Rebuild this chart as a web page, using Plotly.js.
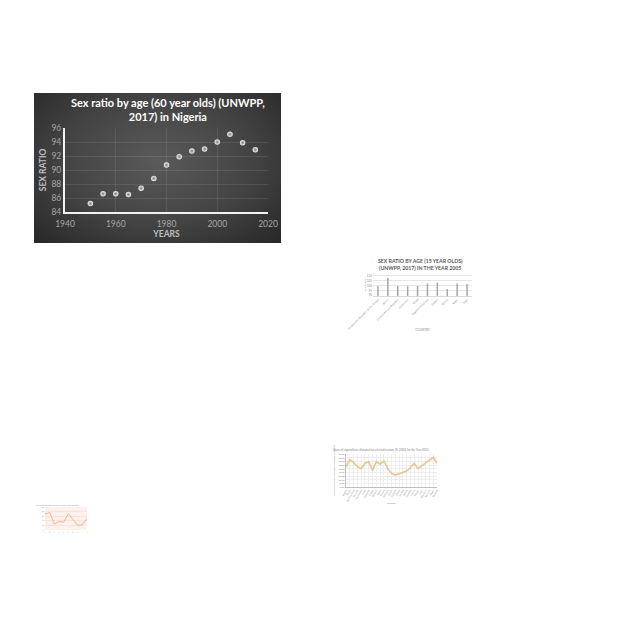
<!DOCTYPE html>
<html>
<head>
<meta charset="utf-8">
<script src="https://cdn.plot.ly/plotly-3.0.1.min.js"></script>
<style>
  html, body { margin: 0; padding: 0; background: #ffffff; width: 640px; height: 640px; overflow: hidden; }
  .box { position: absolute; }
  #main { left: 34px; top: 93px; width: 247px; height: 150px;
    background: radial-gradient(ellipse at 50% 45%, #5a5a5a 0%, #434343 55%, #272727 100%); }
  #bars { left: 335px; top: 250px; width: 145px; height: 82px; }
  #line { left: 310px; top: 440px; width: 130px; height: 76px; }
  #mini { left: 28px; top: 498px; width: 62px; height: 40px; }
</style>
</head>
<body>
<div id="main" class="box"></div>
<div id="bars" class="box"></div>
<div id="line" class="box"></div>
<div id="mini" class="box"></div>
<script>
// ---- Main chart: Sex ratio by age (60 year olds), Nigeria ----
const years = [1950, 1955, 1960, 1965, 1970, 1975, 1980, 1985, 1990, 1995, 2000, 2005, 2010, 2015];
const sexRatio60 = [85.2, 86.6, 86.6, 86.5, 87.4, 88.8, 90.7, 91.9, 92.7, 93.0, 94.0, 95.1, 93.9, 92.9];

// ---- Small bar chart: Sex ratio by age (15 year olds), 2005 ----
const countries15 = ["Democratic Republic of the Congo", "Benin", "Central African Republic", "Cameroon", "Chad", "Equatorial Guinea", "Gabon", "Ghana", "Niger", "Togo"];
const sexRatio15 = [99.7, 108.0, 99.7, 99.7, 99.7, 102.3, 103.3, 96.7, 102.3, 101.7];

// ---- Small line chart: share allocated (%) ----
const shareCategories = ["Angola", "Benin", "Burkina Faso", "Burundi", "Cameroon", "Chad", "Comoros", "Congo", "Djibouti", "Egypt", "Eritrea", "Ethiopia", "Gabon", "Gambia", "Ghana", "Guinea", "Kenya", "Lesotho", "Liberia", "Malawi", "Mali", "Morocco", "Namibia", "Niger", "Rwanda"];
const shareValues = [54.7, 74.2, 66.8, 55.7, 50.1, 64.9, 68.7, 45.5, 69.6, 62.2, 71.4, 50.1, 37.1, 32.5, 36.2, 39.0, 43.6, 52.9, 64.9, 50.1, 57.5, 64.9, 71.4, 80.7, 64.9];

// ---- Tiny line chart ----
const miniCategories = ["A", "B", "C", "D", "E", "F", "G", "H", "I", "J"];
const miniValues = [69, 76, 26, 37, 34, 71, 46, 20, 23, 50];

const cfg = { staticPlot: true, displayModeBar: false };
const FONT = "Lato, 'Open Sans', sans-serif";

Plotly.newPlot("main", [{
  type: "scatter", mode: "markers",
  x: years, y: sexRatio60,
  marker: { size: 5.5, color: "#f4f4f4", line: { width: 0 },
            gradient: { type: "radial", color: "#7a7a7a" } },
  hoverinfo: "skip"
}], {
  width: 247, height: 150,
  paper_bgcolor: "rgba(0,0,0,0)", plot_bgcolor: "rgba(0,0,0,0)",
  margin: { l: 31, r: 13, t: 35, b: 31 },
  showlegend: false,
  font: { family: FONT, color: "#a6a6a6", size: 8.5 },
  annotations: [{
    text: "Sex ratio by age (60 year olds) (UNWPP,<br>2017) in Nigeria",
    xref: "paper", yref: "paper", x: 0.507, y: 1.226, xanchor: "center", yanchor: "middle",
    showarrow: false, align: "center",
    font: { family: FONT, size: 11, color: "#ffffff", weight: 700 }
  }],
  xaxis: {
    range: [1940, 2020], dtick: 20, tick0: 1940,
    showgrid: true, gridcolor: "rgba(255,255,255,0.09)", gridwidth: 1,
    showline: true, linecolor: "#f2f2f2", linewidth: 2,
    zeroline: false, ticks: "", ticklen: 0, ticklabelstandoff: 3,
    tickfont: { size: 8.5, color: "#a6a6a6", family: FONT },
    title: { text: "YEARS", font: { size: 8.5, color: "#bfbfbf", family: FONT, weight: 700 }, standoff: 3 }
  },
  yaxis: {
    range: [84, 96], dtick: 2, tick0: 84,
    showgrid: true, gridcolor: "rgba(255,255,255,0.09)", gridwidth: 1,
    showline: true, linecolor: "#f2f2f2", linewidth: 2,
    zeroline: false, ticks: "",
    tickfont: { size: 8.5, color: "#a6a6a6", family: FONT },
    title: { text: "SEX RATIO", font: { size: 8.5, color: "#bfbfbf", family: FONT, weight: 700 }, standoff: 3 }
  }
}, cfg);

Plotly.newPlot("bars", [{
  type: "bar", x: countries15, y: sexRatio15,
  marker: { color: "#a6a6a6" }, hoverinfo: "skip"
}], {
  width: 145, height: 82,
  paper_bgcolor: "rgba(0,0,0,0)", plot_bgcolor: "rgba(0,0,0,0)",
  margin: { l: 38, r: 8, t: 24, b: 36 },
  bargap: 0.85, showlegend: false,
  font: { family: FONT, color: "#8c8c8c", size: 3 },
  annotations: [{
    text: "SEX RATIO BY AGE (15 YEAR OLDS)<br>(UNWPP, 2017) IN THE YEAR 2005",
    xref: "paper", yref: "paper", x: 0.475, y: 1.43, xanchor: "center", yanchor: "middle",
    showarrow: false, align: "center",
    font: { family: FONT, size: 5.2, color: "#595959", weight: 700 }
  }],
  xaxis: { tickangle: -45, tickfont: { size: 2.8, color: "#8c8c8c" }, showline: true, linecolor: "#d9d9d9",
           automargin: false,
           title: { text: "COUNTRY", font: { size: 3, color: "#8c8c8c" }, standoff: 0 } },
  yaxis: { range: [89.4, 112], dtick: 5, tick0: 90, gridcolor: "#e6e6e6", zeroline: false,
           tickfont: { size: 3, color: "#8c8c8c" }, automargin: false,
           title: { text: "SEX RATIO", font: { size: 2.6, color: "#8c8c8c" }, standoff: 0 } }
}, cfg);

Plotly.newPlot("line", [{
  type: "scatter", mode: "lines", x: shareCategories, y: shareValues,
  line: { color: "#e6c691", width: 1.6 }, hoverinfo: "skip"
}], {
  width: 130, height: 76,
  paper_bgcolor: "rgba(0,0,0,0)", plot_bgcolor: "rgba(0,0,0,0)",
  margin: { l: 36, r: 3, t: 14, b: 29 },
  showlegend: false,
  font: { family: FONT, color: "#8c8c8c", size: 2.5 },
  annotations: [{
    text: "Share of expenditure allocated to selected sectors (%, 2002) for the Year 2010",
    xref: "paper", yref: "paper", x: 0.385, y: 1.15, xanchor: "center", yanchor: "middle",
    showarrow: false, font: { family: FONT, size: 2.8, color: "#7f7f7f" }
  }],
  xaxis: { tickangle: -60, tickfont: { size: 2.4, color: "#8c8c8c" }, showline: true, linecolor: "#bfbfbf",
           automargin: false,
           title: { text: "Country", font: { size: 2.6, color: "#8c8c8c" }, standoff: 0 } },
  yaxis: { range: [0, 90], dtick: 10, tickformat: ".2f", gridcolor: "#ededed", zeroline: false,
           showline: true, linecolor: "#bfbfbf",
           tickfont: { size: 2.4, color: "#8c8c8c" }, automargin: false,
           title: { text: "Share of expenditure allocated to selected sectors (%)", font: { size: 2.2, color: "#8c8c8c" }, standoff: 3 } }
}, cfg);

Plotly.newPlot("mini", [{
  type: "scatter", mode: "lines", x: miniCategories, y: miniValues,
  line: { color: "#f2ab8c", width: 0.9 }, hoverinfo: "skip"
}], {
  width: 62, height: 40,
  paper_bgcolor: "rgba(0,0,0,0)", plot_bgcolor: "#fcf1ec",
  margin: { l: 17, r: 3, t: 9, b: 8 },
  showlegend: false,
  font: { family: FONT, color: "#a0a0a0", size: 2 },
  annotations: [{
    text: "Sex ratio by age over the years in the country",
    xref: "paper", yref: "paper", x: 0.31, y: 1.09, xanchor: "center", yanchor: "middle",
    showarrow: false, font: { family: FONT, size: 2.2, color: "#9a9a9a" }
  }],
  xaxis: { tickangle: -45, tickfont: { size: 1.6, color: "#a0a0a0" }, showgrid: false, automargin: false },
  yaxis: { range: [0, 100], dtick: 20, gridcolor: "#f6e4dc", zeroline: false,
           tickfont: { size: 1.8, color: "#a0a0a0" }, automargin: false }
}, cfg);
</script>
</body>
</html>
